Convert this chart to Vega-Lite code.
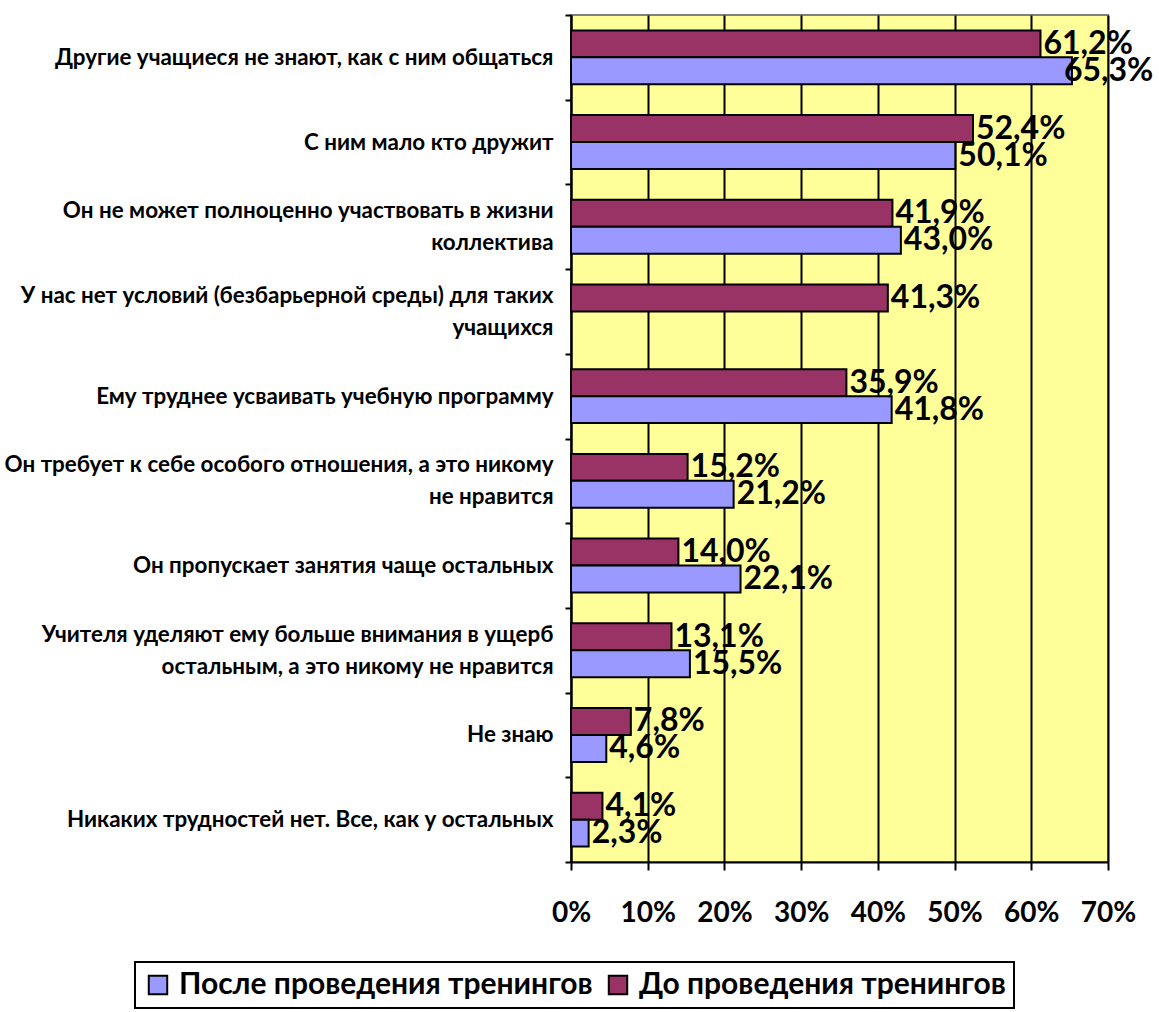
{
  "$schema": "https://vega.github.io/schema/vega-lite/v6.json",
  "width": 537,
  "height": 847,
  "autosize": {"type": "none"},
  "padding": {"left": 571, "top": 15, "right": 51, "bottom": 150},
  "background": "white",
  "data": {
    "values": [
      {"cat": "Другие учащиеся не знают, как с ним общаться", "series": "До проведения тренингов", "v": 61.2},
      {"cat": "Другие учащиеся не знают, как с ним общаться", "series": "После проведения тренингов", "v": 65.3},
      {"cat": "С ним мало кто дружит", "series": "До проведения тренингов", "v": 52.4},
      {"cat": "С ним мало кто дружит", "series": "После проведения тренингов", "v": 50.1},
      {"cat": "Он не может полноценно участвовать в жизни|коллектива", "series": "До проведения тренингов", "v": 41.9},
      {"cat": "Он не может полноценно участвовать в жизни|коллектива", "series": "После проведения тренингов", "v": 43.0},
      {"cat": "У нас нет условий (безбарьерной среды) для таких|учащихся", "series": "До проведения тренингов", "v": 41.3},
      {"cat": "Ему труднее усваивать учебную программу", "series": "До проведения тренингов", "v": 35.9},
      {"cat": "Ему труднее усваивать учебную программу", "series": "После проведения тренингов", "v": 41.8},
      {"cat": "Он требует к себе особого отношения, а это никому|не нравится", "series": "До проведения тренингов", "v": 15.2},
      {"cat": "Он требует к себе особого отношения, а это никому|не нравится", "series": "После проведения тренингов", "v": 21.2},
      {"cat": "Он пропускает занятия чаще остальных", "series": "До проведения тренингов", "v": 14.0},
      {"cat": "Он пропускает занятия чаще остальных", "series": "После проведения тренингов", "v": 22.1},
      {"cat": "Учителя уделяют ему больше внимания в ущерб|остальным, а это никому не нравится", "series": "До проведения тренингов", "v": 13.1},
      {"cat": "Учителя уделяют ему больше внимания в ущерб|остальным, а это никому не нравится", "series": "После проведения тренингов", "v": 15.5},
      {"cat": "Не знаю", "series": "До проведения тренингов", "v": 7.8},
      {"cat": "Не знаю", "series": "После проведения тренингов", "v": 4.6},
      {"cat": "Никаких трудностей нет. Все, как у остальных", "series": "До проведения тренингов", "v": 4.1},
      {"cat": "Никаких трудностей нет. Все, как у остальных", "series": "После проведения тренингов", "v": 2.3}
    ]
  },
  "transform": [
    {"calculate": "replace(format(datum.v, '.1f'), '.', ',') + '%'", "as": "lbl"}
  ],
  "encoding": {
    "y": {
      "field": "cat",
      "type": "nominal",
      "sort": null,
      "title": null,
      "scale": {"paddingInner": 0, "paddingOuter": 0},
      "axis": {
        "labelExpr": "split(datum.label, '|')",
        "labelFont": "Lato",
        "labelFontWeight": "bold",
        "labelFontSize": 22.4,
        "labelColor": "black",
        "labelLineHeight": 32,
        "labelLimit": 700,
        "labelPadding": 12,
        "labelOffset": {"condition": {"test": "indexof(datum.label, '|') >= 0", "value": -16}, "value": 0},
        "tickBand": "extent",
        "tickSize": 6,
        "tickColor": "black",
        "tickWidth": 2,
        "domainColor": "black",
        "domainWidth": 2,
        "grid": false
      }
    },
    "yOffset": {
      "field": "series",
      "type": "nominal",
      "sort": ["До проведения тренингов", "После проведения тренингов"],
      "scale": {"domain": ["До проведения тренингов", "После проведения тренингов"], "paddingInner": 0, "paddingOuter": 0.57}
    },
    "x": {
      "field": "v",
      "type": "quantitative",
      "title": null,
      "scale": {"domain": [0, 70], "nice": false},
      "axis": {
        "values": [0, 10, 20, 30, 40, 50, 60, 70],
        "labelExpr": "datum.value + '%'",
        "labelFont": "Lato",
        "labelFontWeight": "bold",
        "labelFontSize": 28,
        "labelColor": "black",
        "labelPadding": 29,
        "labelFlush": false,
        "tickSize": 8,
        "tickColor": "black",
        "tickWidth": 2,
        "domainColor": "black",
        "domainWidth": 2,
        "grid": true,
        "gridColor": "black",
        "gridWidth": 2
      }
    }
  },
  "layer": [
    {
      "mark": {"type": "bar", "stroke": "black", "strokeWidth": 2},
      "encoding": {
        "color": {
          "field": "series",
          "type": "nominal",
          "scale": {
            "domain": ["После проведения тренингов", "До проведения тренингов"],
            "range": ["#9999FF", "#993366"]
          },
          "legend": {
            "title": null,
            "orient": "none",
            "legendX": -436,
            "legendY": 947,
            "direction": "horizontal",
            "strokeColor": "black",
            "padding": 8,
            "symbolType": "square",
            "symbolSize": 340,
            "symbolStrokeColor": "black",
            "symbolStrokeWidth": 2,
            "symbolOpacity": 1,
            "labelFont": "Lato",
            "labelFontWeight": "bold",
            "labelFontSize": 30,
            "labelColor": "black",
            "labelLimit": 600,
            "labelOffset": 6,
            "columnPadding": 10,
            "encode": {"legend": {"update": {"strokeWidth": {"value": 2}}}}
          }
        }
      }
    },
    {
      "mark": {"type": "text", "align": "left", "baseline": "middle", "dx": {"expr": "datum.v > 64 ? -8 : 3"}, "font": "Lato", "fontWeight": "bold", "fontSize": 32, "color": "black"},
      "encoding": {
        "text": {"field": "lbl"}
      }
    }
  ],
  "config": {
    "view": {"fill": "#FFFF99", "stroke": "#808080", "strokeWidth": 2}
  }
}
